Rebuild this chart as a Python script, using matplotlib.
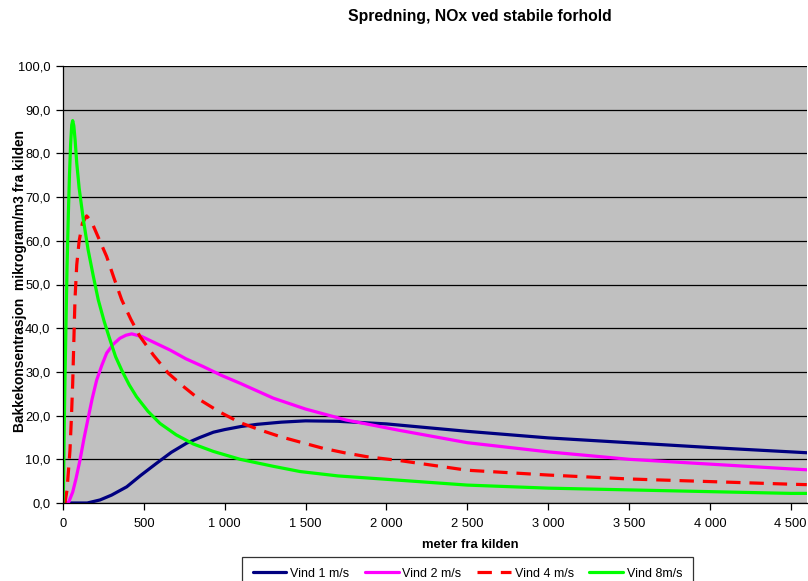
import matplotlib
matplotlib.use("Agg")
import matplotlib.pyplot as plt
from matplotlib.ticker import FuncFormatter, MultipleLocator

plt.rcParams['font.family'] = ['Liberation Sans', 'DejaVu Sans']

# values (meter, mikrogram/m3)
x_v1 = [0, 150, 229, 300, 394, 480, 579, 670, 765, 847, 930, 1000, 1100, 1200,
        1350, 1500, 1700, 2000, 2500, 3000, 3500, 4000, 4500, 4600]
y_v1 = [0, 0, 0.7, 1.8, 3.7, 6.3, 9.1, 11.6, 13.7, 15.0, 16.2, 16.8, 17.5, 18.0,
        18.5, 18.8, 18.7, 18.1, 16.4, 14.9, 13.8, 12.7, 11.7, 11.5]

x_v2 = [0, 33, 60, 80, 105, 130, 157, 180, 208, 240, 270, 310, 352, 390, 425,
        487, 560, 662, 760, 868, 980, 1095, 1300, 1500, 1750, 2084, 2500, 3000,
        3500, 4000, 4500, 4600]
y_v2 = [0, 0, 2.5, 5.5, 9.8, 14.8, 19.7, 23.8, 28.1, 31.5, 34.3, 36.3, 37.7,
        38.4, 38.7, 38.1, 36.8, 35.0, 33.0, 31.2, 29.2, 27.4, 24.0, 21.5, 19.0,
        16.6, 13.8, 11.7, 10.0, 8.9, 7.8, 7.6]

x_v4 = [0, 12, 25, 35, 43, 52, 60, 67, 74, 85, 100, 120, 146, 175, 210, 270,
        315, 363, 420, 476, 560, 651, 750, 847, 970, 1095, 1220, 1342, 1480,
        1610, 1740, 1878, 2084, 2500, 3000, 3500, 4000, 4500, 4600]
y_v4 = [0, 0, 3.0, 8.0, 12.0, 19.5, 27.4, 37.0, 46.5, 54.5, 60.0, 64.0, 65.7,
        64.5, 61.5, 56.4, 51.5, 46.5, 42.0, 38.1, 33.8, 29.7, 26.5, 23.6, 20.8,
        18.4, 16.7, 15.2, 13.8, 12.5, 11.5, 10.6, 9.7, 7.5, 6.4, 5.5, 4.9, 4.3,
        4.2]

x_v8 = [0, 3, 8, 13, 18, 25, 33, 40, 47, 54, 60, 67, 75, 85, 100, 126, 155,
        188, 218, 255, 291, 325, 363, 410, 455, 525, 600, 700, 806, 930, 1095,
        1300, 1466, 1700, 2084, 2500, 3000, 3500, 4000, 4500, 4600]
y_v8 = [0, 3.7, 18.0, 30.0, 40.0, 54.0, 66.0, 75.0, 82.0, 86.5, 87.5, 86.3,
        83.0, 77.8, 72.0, 64.8, 58.0, 51.8, 46.5, 41.5, 37.3, 33.5, 30.4, 27.0,
        24.3, 21.0, 18.2, 15.6, 13.5, 11.8, 10.0, 8.4, 7.2, 6.2, 5.2, 4.1, 3.4,
        3.0, 2.6, 2.2, 2.2]

series = [
    ("Vind 1 m/s", x_v1, y_v1, "#000080", "-"),
    ("Vind 2 m/s", x_v2, y_v2, "#FF00FF", "-"),
    ("Vind 4 m/s", x_v4, y_v4, "#FF0000", (0, (4.5, 2.8))),
    ("Vind 8m/s", x_v8, y_v8, "#00FF00", "-"),
]

W, H = 808, 581
fig = plt.figure(figsize=(W / 100, H / 100), dpi=100)
fig.patch.set_facecolor("white")

left, right, top, bottom = 63, 807, 66, 503
ax = fig.add_axes([left / W, 1 - bottom / H, (right - left) / W, (bottom - top) / H])
ax.set_facecolor("#C0C0C0")

for label, xs, ys, color, ls in series:
    ax.plot(xs, ys, color=color, lw=2.3, ls=ls, label=label,
            solid_joinstyle="round", solid_capstyle="round", dash_capstyle="butt")

ax.set_xlim(0, 4601)
ax.set_ylim(0, 100)
ax.yaxis.set_major_locator(MultipleLocator(10))
ax.xaxis.set_major_locator(MultipleLocator(500))
ax.yaxis.set_major_formatter(FuncFormatter(lambda v, p: f"{v:.1f}".replace(".", ",")))
ax.xaxis.set_major_formatter(FuncFormatter(lambda v, p: f"{int(round(v)):,}".replace(",", " ")))
ax.grid(axis="y", color="black", lw=0.9)
ax.set_axisbelow(True)

for s in ["right", "top"]:
    ax.spines[s].set_visible(False)
for s in ["left", "bottom"]:
    ax.spines[s].set_color("black")
    ax.spines[s].set_linewidth(0.9)

ax.tick_params(axis="both", direction="out", length=5, width=0.9,
               labelsize=9.3, colors="black")
ax.tick_params(axis="x", pad=6)
ax.tick_params(axis="y", pad=4)

fig.text(480 / W, 1 - 17 / H, "Spredning, NOx ved stabile forhold",
         ha="center", va="center", fontsize=11.3, fontweight="bold")
fig.text(470 / W, 1 - 545 / H, "meter fra kilden",
         ha="center", va="center", fontsize=9.4, fontweight="bold")
fig.text(20 / W, 1 - 281 / H, "Bakkekonsentrasjon  mikrogram/m3 fra kilden",
         ha="center", va="center", rotation=90, fontsize=9.9, fontweight="bold")

leg = fig.legend(loc="upper left", bbox_to_anchor=(242 / W, 1 - 557 / H),
                 ncol=4, fontsize=9, frameon=True, fancybox=False,
                 handlelength=2.7, handletextpad=0.3, columnspacing=1.25,
                 borderpad=0.85, borderaxespad=0)
leg.get_frame().set_edgecolor("black")
leg.get_frame().set_linewidth(0.9)

fig.savefig("out.png", dpi=100)
